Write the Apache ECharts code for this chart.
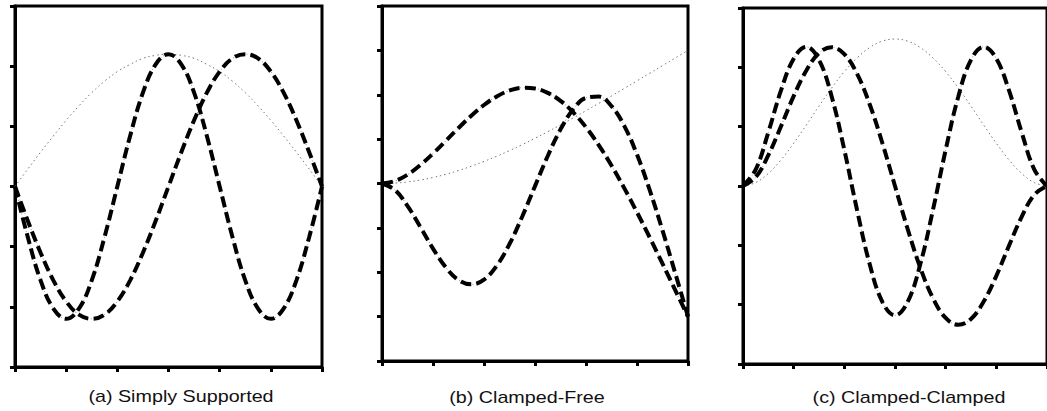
<!DOCTYPE html>
<html><head><meta charset="utf-8">
<script src="https://cdn.jsdelivr.net/npm/echarts@6/dist/echarts.min.js"></script>
<style>html,body{margin:0;padding:0;background:#fff}#c{width:1047px;height:411px}</style>
</head><body><div id="c"></div>
<script>
// Positions along the beam (axis spans 0..6)
const xPos = [0,0.25,0.5,0.75,1,1.25,1.5,1.75,2,2.25,2.5,2.75,3,3.25,3.5,3.75,4,4.25,4.5,4.75,5,5.25,5.5,5.75,6];

// (a) Simply Supported
const ssMode1 = [0,0.29,0.57,0.84,1.10,1.34,1.56,1.75,1.91,2.03,2.13,2.18,2.20,2.18,2.13,2.03,1.91,1.75,1.56,1.34,1.10,0.84,0.57,0.29,0];
const ssMode2 = [0,-0.57,-1.10,-1.56,-1.91,-2.13,-2.20,-2.13,-1.91,-1.56,-1.10,-0.57,0,0.57,1.10,1.56,1.91,2.13,2.20,2.13,1.91,1.56,1.10,0.57,0];
const ssMode3 = [0,-0.84,-1.56,-2.03,-2.20,-2.03,-1.56,-0.84,0,0.84,1.56,2.03,2.20,2.03,1.56,0.84,0,-0.84,-1.56,-2.03,-2.20,-2.03,-1.56,-0.84,0];

// (b) Clamped-Free
const cfMode1 = [0,0.01,0.035,0.078,0.135,0.207,0.292,0.389,0.497,0.615,0.741,0.876,1.019,1.167,1.320,1.479,1.641,1.806,1.973,2.142,2.313,2.484,2.656,2.828,3.0];
const cfMode2 = [0,0.054,0.199,0.414,0.675,0.960,1.251,1.527,1.769,1.963,2.096,2.157,2.141,2.043,1.863,1.603,1.268,0.866,0.405,-0.104,-0.649,-1.217,-1.807,-2.403,-3.0];
const cfMode3 = [0,-0.143,-0.503,-0.975,-1.467,-1.889,-2.174,-2.273,-2.166,-1.853,-1.363,-0.744,-0.059,0.621,1.219,1.673,1.931,1.958,1.744,1.299,0.652,-0.151,-1.058,-2.021,-3.0];

// (c) Clamped-Clamped
const ccMode1 = [0,0.057,0.211,0.440,0.720,1.028,1.346,1.652,1.927,2.158,2.333,2.441,2.477,2.441,2.333,2.158,1.927,1.652,1.346,1.028,0.720,0.440,0.211,0.057,0];
const ccMode2 = [0,0.148,0.519,1.006,1.514,1.948,2.240,2.339,2.223,1.893,1.378,0.725,0,-0.725,-1.378,-1.893,-2.223,-2.339,-2.240,-1.948,-1.514,-1.006,-0.519,-0.148,0];
const ccMode3 = [0,0.276,0.906,1.610,2.146,2.344,2.125,1.509,0.608,-0.400,-1.316,-1.952,-2.179,-1.952,-1.316,-0.400,0.608,1.509,2.125,2.344,2.146,1.610,0.906,0.276,0];

const captions = ['(a) Simply Supported', '(b) Clamped-Free', '(c) Clamped-Clamped'];
const yRanges = [[-3, 3], [-4, 4], [-3, 3]];
const panels = [[ssMode1, ssMode2, ssMode3], [cfMode1, cfMode2, cfMode3], [ccMode1, ccMode2, ccMode3]];

const grids = [
  {left: 15, top: 6, width: 307, height: 361},
  {left: 382, top: 6, width: 306, height: 355},
  {left: 743, top: 8, width: 308, height: 356}
];
const captionPos = [[181, 396], [527, 397], [909, 397]];

const chart = echarts.init(document.getElementById('c'), null, {renderer: 'svg'});
const pairs = arr => xPos.map((x, i) => [x, arr[i]]);

const xAxes = [], yAxes = [], series = [];
grids.forEach((g, i) => {
  g.show = true; g.borderColor = '#000'; g.borderWidth = 3; g.containLabel = false;
  xAxes.push({gridIndex: i, type: 'value', min: 0, max: 6, interval: 1,
    axisLine: {show: true, onZero: false, lineStyle: {color: '#000', width: 3}},
    axisTick: {show: true, inside: false, length: 5, lineStyle: {color: '#000', width: 3}},
    axisLabel: {show: false}, splitLine: {show: false}});
  yAxes.push({gridIndex: i, type: 'value', min: yRanges[i][0], max: yRanges[i][1], interval: 1,
    axisLine: {show: true, onZero: false, lineStyle: {color: '#000', width: 3}},
    axisTick: {show: true, inside: false, length: 5, lineStyle: {color: '#000', width: 3}},
    axisLabel: {show: false}, splitLine: {show: false}});
  const [m1, m2, m3] = panels[i];
  const base = {type: 'line', xAxisIndex: i, yAxisIndex: i, showSymbol: false, symbol: 'none', smooth: 0.4, animation: false, silent: true};
  series.push(Object.assign({}, base, {data: pairs(m1), lineStyle: {color: '#777', width: 1, type: [1.5, 3]}}));
  [m2, m3].forEach(m => {
    series.push(Object.assign({}, base, {data: pairs(m), lineStyle: {color: '#999', width: 1, type: [1, 2.5]}}));
  });
  [m2, m3].forEach(m => {
    series.push(Object.assign({}, base, {data: pairs(m), lineStyle: {color: '#000', width: 4, type: [11, 5]}}));
  });
});

chart.setOption({
  animation: false,
  backgroundColor: '#fff',
  grid: grids, xAxis: xAxes, yAxis: yAxes, series: series,
  graphic: captions.map((t, i) => ({
    type: 'text', x: captionPos[i][0], y: captionPos[i][1], scaleX: 1.16,
    style: {text: t, fill: '#111', fontSize: 17, fontFamily: '"Liberation Sans", Arial, sans-serif', align: 'center', verticalAlign: 'middle'}
  }))
});
</script></body></html>
